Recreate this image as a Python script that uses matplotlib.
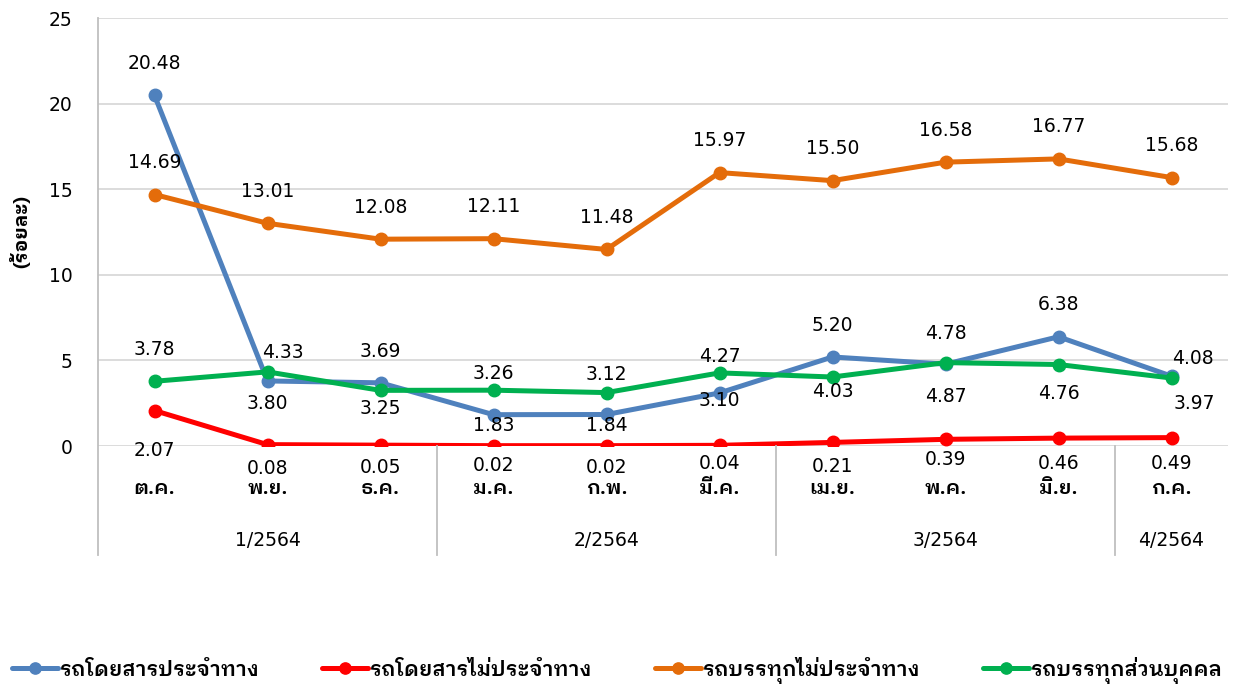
import matplotlib
matplotlib.use("Agg")
import matplotlib.pyplot as plt
import matplotlib.transforms as mtransforms

THAI = ["IBM Plex Sans Thai Looped", "Noto Sans Thai", "DejaVu Sans"]
NUM = ["DejaVu Sans", "Noto Sans Thai"]

months = ["ต.ค.", "พ.ย.", "ธ.ค.", "ม.ค.", "ก.พ.", "มี.ค.", "เม.ย.", "พ.ค.", "มิ.ย.", "ก.ค."]
quarters = ["1/2564", "2/2564", "3/2564", "4/2564"]
quarter_sizes = [3, 3, 3, 1]

bus_fixed = [20.48, 3.80, 3.69, 1.83, 1.84, 3.10, 5.20, 4.78, 6.38, 4.08]
bus_nonfixed = [2.07, 0.08, 0.05, 0.02, 0.02, 0.04, 0.21, 0.39, 0.46, 0.49]
truck_nonfixed = [14.69, 13.01, 12.08, 12.11, 11.48, 15.97, 15.50, 16.58, 16.77, 15.68]
truck_private = [3.78, 4.33, 3.25, 3.26, 3.12, 4.27, 4.03, 4.87, 4.76, 3.97]

names = ["รถโดยสารประจำทาง", "รถโดยสารไม่ประจำทาง", "รถบรรทุกไม่ประจำทาง", "รถบรรทุกส่วนบุคคล"]
colors = ["#4f81bd", "#ff0000", "#e46c0a", "#00b050"]

# label offsets in pixels (dx, dy) as placed in the original chart
offs_blue = [(0, 32), (0, -23), (0, 31), (0, -11), (0, -11), (0, -8), (0, 31), (0, 31), (0, 32), (21, 18)]
offs_red = [(0, -40), (0, -24), (0, -22), (0, -20), (0, -22), (0, -18), (0, -24), (0, -20), (0, -25), (0, -26)]
offs_orange = [(0, 32)] * 10
offs_green = [(0, 32), (15, 19), (0, -18), (0, 17), (0, 18), (0, 16), (0, -14), (0, -34), (0, -29), (23, -25)]

fig = plt.figure(figsize=(12.35, 6.85), dpi=100)
ax = fig.add_axes([98 / 1235, 1 - 446 / 685, 1130 / 1235, 428 / 685])

x = list(range(len(months)))
series = [bus_fixed, bus_nonfixed, truck_nonfixed, truck_private]
offsets = [offs_blue, offs_red, offs_orange, offs_green]
for vals, name, c in zip(series, names, colors):
    ax.plot(x, vals, color=c, lw=3.6, marker="o", ms=9, label=name, solid_capstyle="round")

for vals, offs in zip(series, offsets):
    for xi, v, (dx, dy) in zip(x, vals, offs):
        ax.annotate(f"{v:.2f}", (xi, v), xytext=(dx, dy), textcoords="offset pixels",
                    ha="center", va="center", fontsize=13.5, family=NUM, color="black",
                    annotation_clip=False, zorder=5)

ax.set_xlim(-0.5, len(months) - 0.5)
ax.set_ylim(0, 25)
ax.set_yticks([0, 5, 10, 15, 20, 25])
ax.set_yticklabels(["0", "5", "10", "15", "20", "25"], fontsize=13.5, family=NUM)
ax.tick_params(axis="y", length=0, pad=18.5)
ax.set_xticks([])
ax.grid(axis="y", color="#d9d9d9", lw=1.3)
ax.set_axisbelow(True)
for s in ax.spines.values():
    s.set_visible(False)

fig.text(21 / 1235, 1 - 232 / 685, "(ร้อยละ)", rotation=90, ha="center", va="center",
         family=THAI, fontsize=14, fontweight="bold")

# multi-level category axis
trans = mtransforms.blended_transform_factory(ax.transData, ax.transAxes)
bottom = -109 / 428
line_kw = dict(color="#bfbfbf", lw=1.3, transform=trans, clip_on=False)
ax.plot([-0.5, -0.5], [bottom, 1], **line_kw)
for xi, m in zip(x, months):
    ax.text(xi, -43 / 428, m, transform=trans, ha="center", va="center",
            fontsize=14.5, family=THAI, fontweight="semibold")
start = -0.5
for q, n in zip(quarters, quarter_sizes):
    ax.text(start + n / 2, -95 / 428, q, transform=trans, ha="center", va="center",
            fontsize=13.5, family=NUM)
    start += n
    if start < len(months) - 0.5:
        ax.plot([start, start], [bottom, 0], **line_kw)

fig.legend(loc="center", bbox_to_anchor=(0.5, 1 - 670 / 685), ncol=4, frameon=False,
           prop={"family": THAI, "size": 15, "weight": "semibold"},
           handlelength=2.2, handletextpad=0.1, columnspacing=3.0, markerscale=0.9)

fig.savefig("out.png", dpi=100)
